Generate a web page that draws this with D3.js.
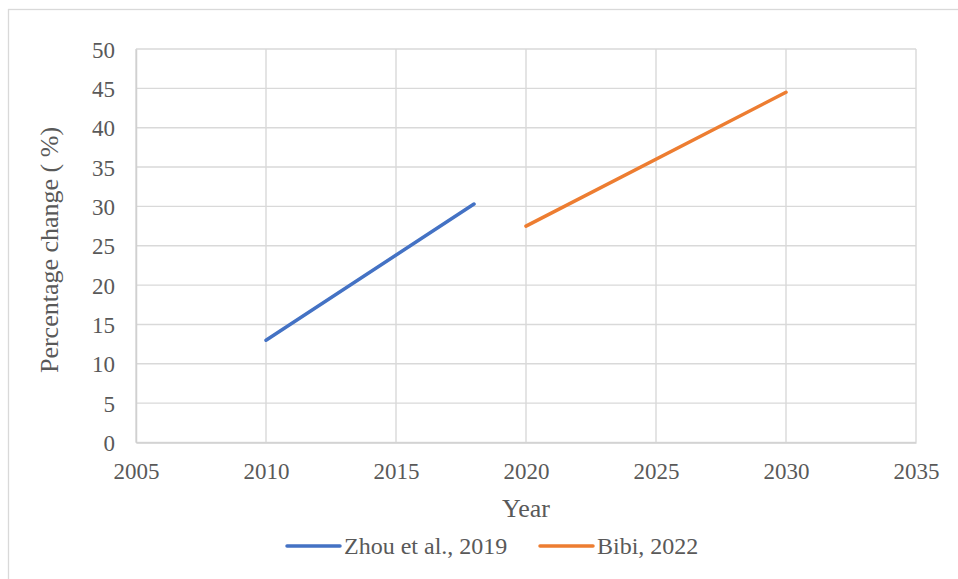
<!DOCTYPE html>
<html>
<head>
<meta charset="utf-8">
<script src="https://cdn.jsdelivr.net/npm/d3@7"></script>
<style>
  html, body { margin: 0; padding: 0; background: #fff; }
  svg { display: block; }
  svg text { font-family: "Liberation Serif", "Times New Roman", Tinos, "DejaVu Serif", serif; }
</style>
</head>
<body>
<svg id="chart" width="958" height="579"></svg>
<script>
// Series: year / percentage change
const zhouYears = [2010, 2018];
const zhouValues = [13.0, 30.3];
const bibiYears = [2020, 2030];
const bibiValues = [27.5, 44.5];

const seriesNames = ["Zhou et al., 2019", "Bibi, 2022"];
const seriesColors = ["#4472C4", "#ED7D31"];

const xTicks = [2005, 2010, 2015, 2020, 2025, 2030, 2035];
const yTicks = [0, 5, 10, 15, 20, 25, 30, 35, 40, 45, 50];

const svg = d3.select("#chart");
const W = 958, H = 579;
const plot = { left: 136, right: 916, top: 49, bottom: 442.5 };

// Chart frame
svg.append("rect")
  .attr("x", 8.5).attr("y", 9.5)
  .attr("width", W + 20).attr("height", H + 20)
  .attr("fill", "#fff").attr("stroke", "#d9d9d9").attr("stroke-width", 1.3);

const x = d3.scaleLinear().domain([2005, 2035]).range([plot.left, plot.right]);
const y = d3.scaleLinear().domain([0, 50]).range([plot.bottom, plot.top]);

// Gridlines
const grid = svg.append("g").attr("stroke", "#d9d9d9").attr("stroke-width", 1.4);
grid.selectAll("line.h").data(yTicks).join("line")
  .attr("x1", plot.left).attr("x2", plot.right)
  .attr("y1", d => y(d)).attr("y2", d => y(d));
grid.selectAll("line.v").data(xTicks).join("line")
  .attr("y1", plot.top).attr("y2", plot.bottom)
  .attr("x1", d => x(d)).attr("x2", d => x(d));

// Axes (labels only; grid draws the lines)
const xAxis = svg.append("g")
  .attr("transform", `translate(0,${plot.bottom})`)
  .call(d3.axisBottom(x).tickValues(xTicks).tickFormat(d3.format("d")).tickSize(0).tickPadding(36.5));
xAxis.attr("font-family", null).attr("font-size", null);
xAxis.select(".domain").attr("stroke", "#d0d0d0").attr("stroke-width", 1.5);
xAxis.selectAll("text").attr("font-size", 23).attr("fill", "#595959")
  .attr("dy", "0");

const yAxis = svg.append("g")
  .attr("transform", `translate(${plot.left},0)`)
  .call(d3.axisLeft(y).tickValues(yTicks).tickSize(0).tickPadding(21));
yAxis.attr("font-family", null).attr("font-size", null);
yAxis.select(".domain").attr("stroke", "#d0d0d0").attr("stroke-width", 1.5);
yAxis.selectAll("text").attr("font-size", 23).attr("fill", "#595959")
  .attr("dy", "0.35em");

// Axis titles
svg.append("text")
  .attr("x", 526).attr("y", 517)
  .attr("text-anchor", "middle")
  .attr("font-size", 26).attr("fill", "#595959")
  .text("Year");

svg.append("text")
  .attr("transform", `translate(58,250) rotate(-90)`)
  .attr("text-anchor", "middle")
  .attr("font-size", 26).attr("fill", "#595959")
  .text("Percentage change ( %)");

// Lines
const line = d3.line().x(d => x(d[0])).y(d => y(d[1]));
const series = [
  d3.zip(zhouYears, zhouValues),
  d3.zip(bibiYears, bibiValues)
];
svg.selectAll("path.series").data(series).join("path")
  .attr("class", "series")
  .attr("d", line)
  .attr("fill", "none")
  .attr("stroke", (d, i) => seriesColors[i])
  .attr("stroke-width", 3.5)
  .attr("stroke-linecap", "round");

// Legend
const legendX = [287, 540];
const legendY = 546;
const lg = svg.append("g");
seriesNames.forEach((name, i) => {
  lg.append("line")
    .attr("x1", legendX[i]).attr("x2", legendX[i] + 53)
    .attr("y1", legendY).attr("y2", legendY)
    .attr("stroke", seriesColors[i]).attr("stroke-width", 3.5)
    .attr("stroke-linecap", "round");
  lg.append("text")
    .attr("x", legendX[i] + 57).attr("y", legendY + 8)
    .attr("font-size", 24).attr("fill", "#595959")
    .text(name);
});
</script>
</body>
</html>
